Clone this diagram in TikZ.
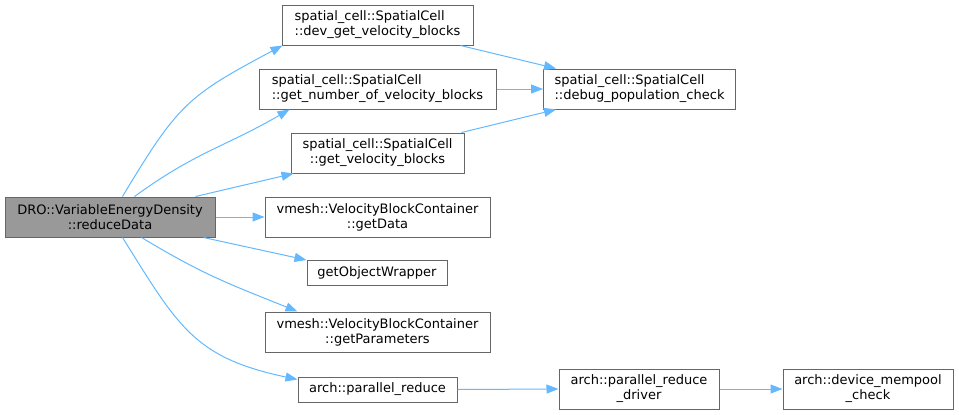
\documentclass[tikz,border=0pt]{standalone}
\usepackage{fontspec}
\setmainfont{DejaVu Sans}
\usetikzlibrary{arrows.meta}
\definecolor{edgecol}{HTML}{63B8FF}
\definecolor{boxborder}{HTML}{666666}
\definecolor{mainfill}{HTML}{999999}
\tikzset{
  fn/.style={draw=boxborder, line width=1pt, fill=white, inner sep=0pt, minimum height=40pt,
    font=\fontsize{13}{15}\selectfont, text=black},
  fnone/.style={fn, minimum height=25pt},
  edge/.style={draw=edgecol, line width=1pt, -{Triangle[length=12pt,width=9pt]}},
}
\begin{document}
\begin{tikzpicture}[x=1pt,y=-1pt]
\useasboundingbox (0,0) rectangle (959,415);
\node[fn, fill=mainfill, minimum width=210pt, align=center] (main) at (110,217) {DRO::VariableEnergyDensity\\::reduceData};
\node[fn, minimum width=191pt, align=left] (dev) at (377.5,25) {spatial\_cell::SpatialCell\\::dev\_get\_velocity\_blocks};
\node[fn, minimum width=237pt, align=left] (num) at (377.5,89) {spatial\_cell::SpatialCell\\::get\_number\_of\_velocity\_blocks};
\node[fn, minimum width=173pt, align=center] (vel) at (377.5,153) {spatial\_cell::SpatialCell\\::get\_velocity\_blocks};
\node[fn, minimum width=192pt, align=left] (dbg) at (639.5,89) {spatial\_cell::SpatialCell\\::debug\_population\_check};
\node[fn, minimum width=225pt, align=center] (data) at (377.5,217) {vmesh::VelocityBlockContainer\\::getData};
\node[fnone, minimum width=140pt] (wrap) at (377,273) {getObjectWrapper};
\node[fn, minimum width=225pt, align=center] (par) at (377.5,332) {vmesh::VelocityBlockContainer\\::getParameters};
\node[fnone, minimum width=159pt] (pred) at (377.5,389.5) {arch::parallel\_reduce};
\node[fn, minimum width=160pt, align=center] (drv) at (639,389) {arch::parallel\_reduce\\\_driver};
\node[fn, minimum width=170pt, align=center] (mem) at (868,389) {arch::device\_mempool\\\_check};

\draw[edge] ([xshift=118pt]main.north west) to[out=59,in=208,looseness=1.25] ([xshift=1pt]dev.south west);
\draw[edge] ([xshift=130pt]main.north west) to[out=36,in=210,looseness=1.1] ([xshift=31pt]num.south west);
\draw[edge] ([xshift=-20pt]main.north east) -- ([xshift=3pt]vel.south west);
\draw[edge] (main.east) -- (data.west);
\draw[edge] ([xshift=-12pt]main.south east) -- (wrap.north west);
\draw[edge] ([xshift=137pt]main.south west) to[out=-31,in=158,looseness=1.1] ([xshift=33pt]par.north west);
\draw[edge] ([xshift=118pt]main.south west) to[out=-58,in=168,looseness=1.2] ([yshift=-3pt]pred.north west);
\draw[edge] ([xshift=-13pt]dev.south east) -- ([xshift=13pt]dbg.north west);
\draw[edge] (num.east) -- (dbg.west);
\draw[edge] ([xshift=-3pt]vel.north east) -- ([xshift=13pt]dbg.south west);
\draw[edge] (pred.east) -- (drv.west);
\draw[edge] (drv.east) -- (mem.west);
\end{tikzpicture}
\end{document}
